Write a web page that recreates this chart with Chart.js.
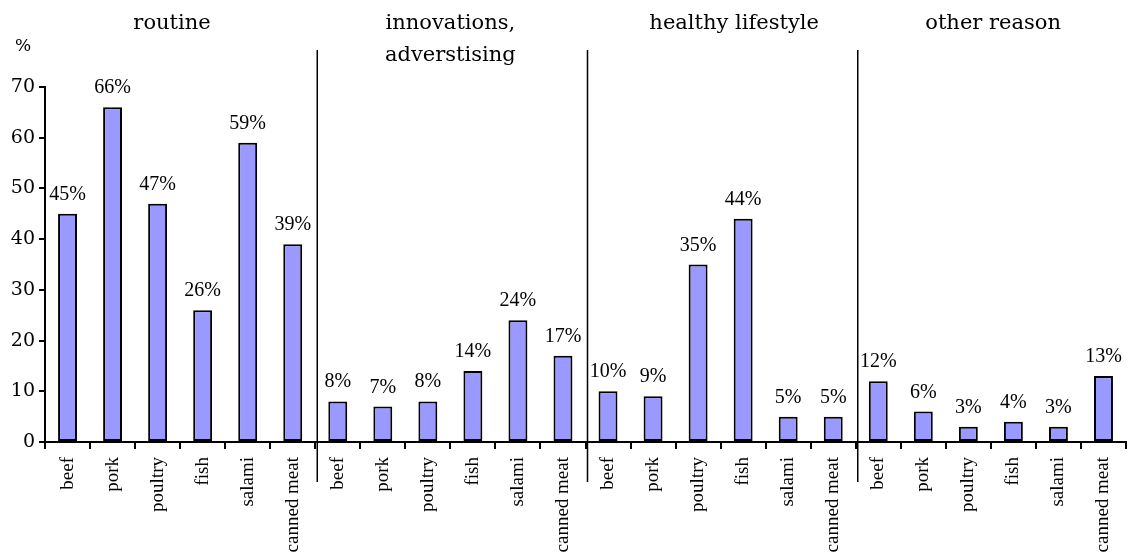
<!DOCTYPE html>
<html>
<head>
<meta charset="utf-8">
<script src="https://cdn.jsdelivr.net/npm/chart.js@4/dist/chart.umd.min.js"></script>
<style>
  html, body { margin: 0; padding: 0; background: #fff; }
  #wrap { width: 1128px; height: 556px; overflow: hidden; }
</style>
</head>
<body>
<div id="wrap"><canvas id="chart" width="1128" height="556"></canvas></div>
<script>
"use strict";

const products = ['beef', 'pork', 'poultry', 'fish', 'salami', 'canned meat'];
const reasons = [['routine'], ['innovations,', 'adverstising'], ['healthy lifestyle'], ['other reason']];

const routine = [45, 66, 47, 26, 59, 39];
const innovations = [8, 7, 8, 14, 24, 17];
const healthy = [10, 9, 35, 44, 5, 5];
const other = [12, 6, 3, 4, 3, 13];

const yTicks = [0, 10, 20, 30, 40, 50, 60, 70];

const labels = [].concat(products, products, products, products);
const values = [].concat(routine, innovations, healthy, other);

// nudges for the group headings, in category widths
const titleShift = [-0.18, 0, 0.3, 0.05];

const serif = "'Liberation Serif', 'Times New Roman', serif";
const headSerif = "'DejaVu Serif', serif";

const decorations = {
  id: 'decorations',
  afterDatasetsDraw(chart) {
    const ctx = chart.ctx;
    const x = chart.scales.x;
    const meta = chart.getDatasetMeta(0);

    // value labels above bars
    ctx.save();
    ctx.fillStyle = '#000';
    ctx.font = '20px ' + serif;
    ctx.textAlign = 'center';
    ctx.textBaseline = 'alphabetic';
    meta.data.forEach((bar, i) => {
      ctx.fillText(values[i] + '%', bar.x, bar.y - 14);
    });
    ctx.restore();

    // group separators
    ctx.save();
    ctx.strokeStyle = '#000';
    ctx.lineWidth = 1.5;
    [6, 12, 18].forEach(k => {
      const px = (x.getPixelForValue(k - 1) + x.getPixelForValue(k)) / 2 + 2;
      ctx.beginPath();
      ctx.moveTo(px, 50);
      ctx.lineTo(px, 482);
      ctx.stroke();
    });
    ctx.restore();

    // group headings
    ctx.save();
    ctx.fillStyle = '#000';
    ctx.font = '21px ' + headSerif;
    ctx.textAlign = 'center';
    ctx.textBaseline = 'middle';
    const step = x.getPixelForValue(1) - x.getPixelForValue(0);
    reasons.forEach((lines, g) => {
      const cx = (x.getPixelForValue(g * 6 + 2) + x.getPixelForValue(g * 6 + 3)) / 2 + titleShift[g] * step;
      lines.forEach((t, j) => ctx.fillText(t, cx, 24 + j * 32));
    });

    ctx.font = '17px ' + headSerif;
    ctx.fillText('%', 23, 47);
    ctx.restore();
  }
};

new Chart(document.getElementById('chart'), {
  type: 'bar',
  data: {
    labels: labels,
    datasets: [{
      data: values,
      backgroundColor: '#9999ff',
      borderColor: '#000',
      borderWidth: 2,
      borderSkipped: false,
      categoryPercentage: 1,
      barPercentage: 0.42
    }]
  },
  options: {
    responsive: false,
    animation: false,
    layout: { padding: { top: 87, right: 2, left: 0, bottom: 0 } },
    plugins: {
      legend: { display: false },
      tooltip: { enabled: false }
    },
    scales: {
      x: {
        afterFit(scale) {
          scale.height = 114;
          scale.paddingLeft = 0;
          scale.paddingRight = 0;
        },
        grid: {
          offset: true,
          drawOnChartArea: false,
          tickLength: 7,
          color: '#000',
          lineWidth: 2
        },
        border: { color: '#000', width: 2 },
        ticks: {
          minRotation: 90,
          maxRotation: 90,
          autoSkip: false,
          padding: 8,
          color: '#000',
          font: { family: serif, size: 19 }
        }
      },
      y: {
        min: 0,
        max: 70,
        afterFit(scale) { scale.width = 45; },
        afterBuildTicks(scale) { scale.ticks = yTicks.map(v => ({ value: v })); },
        grid: {
          drawOnChartArea: false,
          tickLength: 6,
          color: '#000',
          lineWidth: 2
        },
        border: { color: '#000', width: 2 },
        ticks: {
          padding: 4,
          color: '#000',
          font: { family: headSerif, size: 19 }
        }
      }
    }
  },
  plugins: [decorations]
});
</script>
</body>
</html>
